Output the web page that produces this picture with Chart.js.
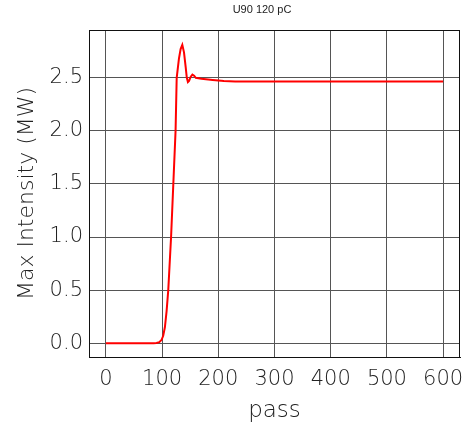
<!DOCTYPE html>
<html>
<head>
<meta charset="utf-8">
<script src="https://cdn.jsdelivr.net/npm/chart.js@4"></script>
<style>
  html, body { margin: 0; padding: 0; background: #fff; }
  #wrap { width: 466px; height: 426px; }
</style>
</head>
<body>
<div id="wrap"><canvas id="lineChart"></canvas></div>
<script>
// data
const passes = [0, 60, 85, 90, 95, 99, 102, 105, 108, 111, 116, 120, 124, 126, 130, 133, 136, 139, 142, 144, 146, 148, 151, 154, 157, 160, 170, 190, 210, 230, 300, 400, 500, 600];
const maxIntensity = [0, 0, 0, 0.002, 0.01, 0.03, 0.07, 0.15, 0.3, 0.5, 1.0, 1.5, 2.0, 2.5, 2.68, 2.77, 2.81, 2.74, 2.6, 2.5, 2.46, 2.47, 2.51, 2.53, 2.52, 2.5, 2.49, 2.48, 2.47, 2.465, 2.465, 2.465, 2.465, 2.465];
const xTicks = [0, 100, 200, 300, 400, 500, 600];
const yTicks = [0, 0.5, 1.0, 1.5, 2.0, 2.5];

const tickFont = { family: 'DejaVu Sans', size: 21, weight: 200 };

// frame + small title
const framePlugin = {
    id: 'frame',
    afterDraw(chart) {
        const { ctx, chartArea: a } = chart;
        ctx.save();
        ctx.strokeStyle = '#111';
        ctx.lineWidth = 1;
        ctx.strokeRect(a.left + 0.5, a.top + 0.5, a.right - a.left - 1, a.bottom - a.top);
        ctx.fillStyle = '#222';
        ctx.font = '11px "Liberation Sans"';
        ctx.textAlign = 'center';
        ctx.textBaseline = 'middle';
        ctx.fillText('U90 120 pC', 262, 10);
        ctx.restore();
    }
};

const ctx = document.getElementById('lineChart').getContext('2d');
const lineChart = new Chart(ctx, {
    type: 'line',
    data: {
        datasets: [{
            data: passes.map((p, i) => ({ x: p, y: maxIntensity[i] })),
            borderColor: '#ff0000',
            borderWidth: 2,
            pointRadius: 0,
            tension: 0,
            fill: false
        }]
    },
    options: {
        responsive: true,
        maintainAspectRatio: false,
        animation: false,
        layout: { padding: { top: 30, right: 6, left: 0, bottom: 0 } },
        plugins: {
            legend: { display: false },
            tooltip: { enabled: false }
        },
        scales: {
            x: {
                type: 'linear',
                min: -30,
                max: 630,
                afterBuildTicks: s => { s.ticks = xTicks.map(v => ({ value: v })); },
                afterFit: s => { s.height = 69; s.paddingLeft = 0; s.paddingRight = 0; },
                grid: { color: '#555', drawTicks: false },
                border: { color: '#111' },
                ticks: { color: '#222', font: tickFont, padding: 10, maxRotation: 0 },
                title: { display: true, text: 'pass', color: '#222', font: { family: 'DejaVu Sans', size: 23, weight: 200 }, padding: { top: 0, bottom: 1 } }
            },
            y: {
                min: -0.13,
                max: 2.95,
                afterBuildTicks: s => { s.ticks = yTicks.map(v => ({ value: v })); },
                afterFit: s => { s.width = 89; },
                grid: { color: '#555', drawTicks: false },
                border: { color: '#111' },
                ticks: { color: '#222', font: tickFont, padding: 6, callback: v => v.toFixed(1) },
                title: { display: true, text: 'Max Intensity (MW)', color: '#222', font: { family: 'DejaVu Sans', size: 22, weight: 200 }, padding: { top: 14, bottom: 6 } }
            }
        }
    },
    plugins: [framePlugin]
});
</script>
</body>
</html>
